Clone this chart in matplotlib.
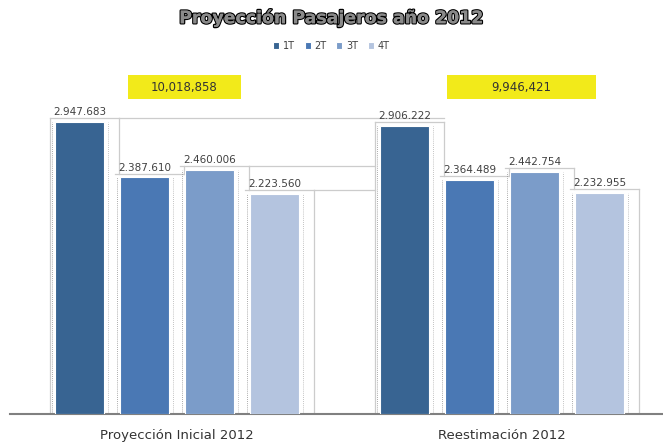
import matplotlib.pyplot as plt
import matplotlib.patheffects as pe
from matplotlib.patches import Rectangle
import numpy as np

# data
groups = ['Proyección Inicial 2012', 'Reestimación 2012']
series = ['1T', '2T', '3T', '4T']
values = {
    '1T': [2947683, 2906222],
    '2T': [2387610, 2364489],
    '3T': [2460006, 2442754],
    '4T': [2223560, 2232955],
}
totals = ['10,018,858', '9,946,421']
colors = ['#386492', '#4a78b4', '#7b9cc9', '#b4c4df']

fig = plt.figure(figsize=(6.63, 4.47), dpi=100)
ax = fig.add_axes([10 / 663, 33 / 447, 653 / 663, 317 / 447])

x = np.arange(len(groups))
step = 0.2
width = 0.152
offsets = (np.arange(len(series)) - 1.5) * step

for i, s in enumerate(series):
    xs = x + offsets[i]
    ax.bar(xs, values[s], width=width, color=colors[i], edgecolor='white',
           linewidth=0.8, label=s, zorder=3)
    for xx, v in zip(xs, values[s]):
        ax.text(xx, v + 50000, f'{v:,}'.replace(',', '.'), ha='center', va='bottom',
                fontsize=7.5, color='#404040', zorder=4)
        # dotted edge lines
        ax.plot([xx - width / 2 - 0.01] * 2, [0, v], ls=(0, (1, 1.5)), color='#909090',
                lw=0.6, zorder=2)
        ax.plot([xx + width / 2 + 0.01] * 2, [0, v], ls=(0, (1, 1.5)), color='#b0b0b0',
                lw=0.6, zorder=2)

# grey step outline behind the bars
edge = '#cccccc'
for g in x:
    vals = [values[s][g] for s in series]
    lefts = g + offsets - width / 2 - 0.015
    rights = g + offsets + width / 2 + 0.015
    for i, v in enumerate(vals):
        ax.plot([lefts[i], rights[i] + 0.03], [v + 40000] * 2, color=edge, lw=0.9, zorder=1)
        if i < len(vals) - 1:
            ax.plot([rights[i] + 0.03] * 2, [v + 40000, vals[i + 1] + 40000],
                    color=edge, lw=0.9, zorder=1)
    ax.plot([lefts[0]] * 2, [0, vals[0] + 40000], color=edge, lw=0.9, zorder=1)
    ax.plot([rights[-1] + 0.03] * 2, [0, vals[-1] + 40000], color=edge, lw=0.9, zorder=1)
# lines carried across to the second group
ax.plot([offsets[0] + width / 2 + 0.045, 1 + offsets[0] + width / 2 + 0.045],
        [values['1T'][0] + 40000] * 2, color=edge, lw=0.9, zorder=1)
ax.plot([offsets[2] + width / 2 + 0.045, 1 + offsets[0] - width / 2 - 0.015],
        [values['3T'][0] + 40000] * 2, color=edge, lw=0.9, zorder=1)
ax.plot([offsets[-1] + width / 2 + 0.045, 1 + offsets[0] - width / 2 - 0.015],
        [values['4T'][0] + 40000] * 2, color=edge, lw=0.9, zorder=1)

ax.set_xlim(-0.514, 1.495)
ax.set_ylim(0, 3200000)
ax.set_xticks(x)
ax.set_xticklabels(groups, fontsize=9.5, color='#333333')
ax.tick_params(axis='x', length=0, pad=11)
ax.set_yticks([])
for sp in ['top', 'right', 'left']:
    ax.spines[sp].set_visible(False)
ax.spines['bottom'].set_color('#808080')
ax.spines['bottom'].set_linewidth(1.5)

# yellow total boxes
boxes = [(128, 241), (447, 596)]
for (x0, x1), t in zip(boxes, totals):
    fig.patches.append(Rectangle((x0 / 663, 1 - 99 / 447), (x1 - x0) / 663, 24 / 447,
                                 transform=fig.transFigure, fc='#f2ea1a', ec='none'))
    fig.text((x0 + x1) / 2 / 663, 1 - 87 / 447, t, ha='center', va='center',
             fontsize=8.5, color='#333333')

fig.text(0.5, 1 - 18 / 447, 'Proyección Pasajeros año 2012', ha='center', va='center',
         fontsize=12.5, fontweight='bold', color='#8a8a8a',
         path_effects=[pe.withStroke(linewidth=1.8, foreground='black'), pe.Normal()])

leg = fig.legend(loc='center', bbox_to_anchor=(0.5, 1 - 46 / 447), ncol=4, frameon=False,
                 fontsize=7, handlelength=0.6, handleheight=0.6, handletextpad=0.4,
                 columnspacing=1.0)
for t in leg.get_texts():
    t.set_color('#404040')

fig.savefig('out.png', dpi=100)
